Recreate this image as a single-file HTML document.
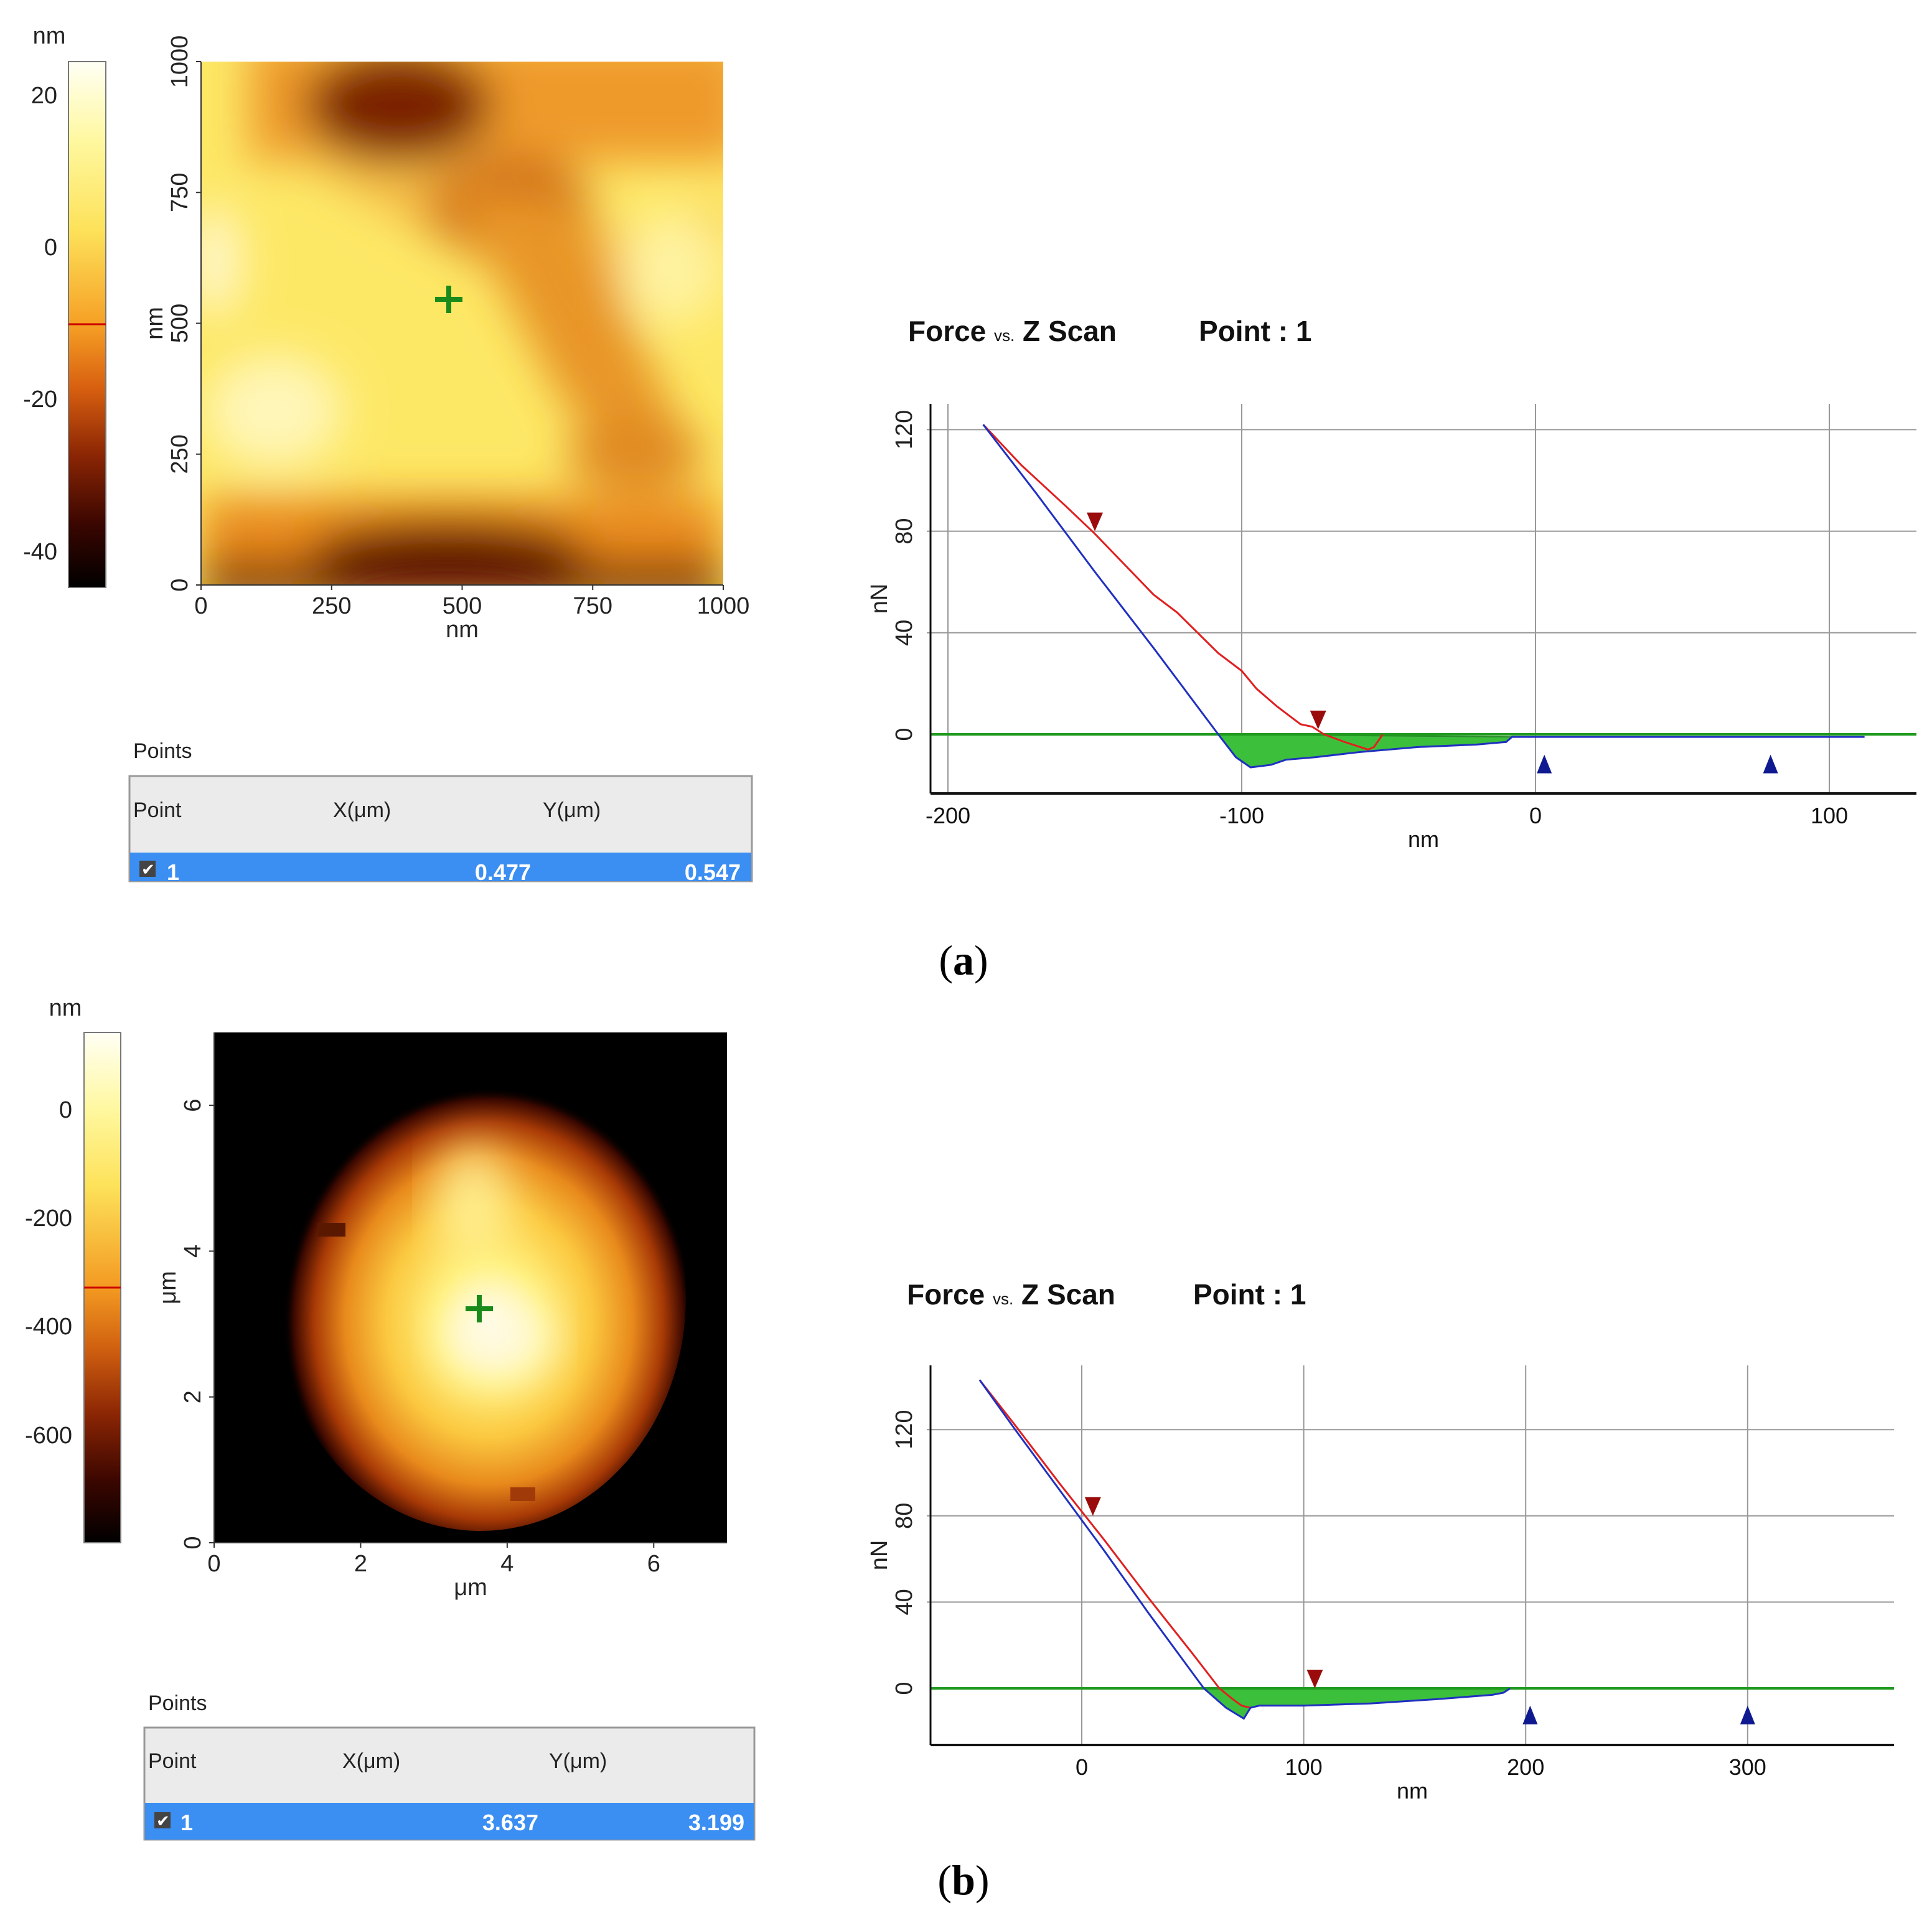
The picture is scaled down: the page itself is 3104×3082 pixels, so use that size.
<!DOCTYPE html>
<html><head><meta charset="utf-8"><style>
html,body{margin:0;padding:0;background:#fff;}
svg{display:block;}
text{font-family:"Liberation Sans",sans-serif;}
.tk{font-size:38px;fill:#222;}
.ft{font-size:36px;fill:#111;font-family:"Liberation Sans Narrow","Liberation Sans",sans-serif;}
.ttl{font-size:46px;font-weight:bold;fill:#111;font-family:"Liberation Sans Narrow","Liberation Sans",sans-serif;}
.tb{font-size:34px;fill:#222;}
.tv{font-size:36px;fill:#fff;font-weight:bold;}
.cap{font-family:"Liberation Serif",serif;font-size:68px;fill:#000;}
</style></head><body>
<svg id="root" width="3104" height="3082" viewBox="0 0 3104 3082" xmlns="http://www.w3.org/2000/svg">
<defs>
<linearGradient id="cbA" x1="0" y1="0" x2="0" y2="1">
<stop offset="0" stop-color="#fffff4"/><stop offset="0.15" stop-color="#fff8a0"/><stop offset="0.32" stop-color="#fde25a"/>
<stop offset="0.5" stop-color="#f6a025"/><stop offset="0.62" stop-color="#d86010"/><stop offset="0.75" stop-color="#8a2504"/>
<stop offset="0.88" stop-color="#3a0600"/><stop offset="1" stop-color="#000"/></linearGradient>
<linearGradient id="cbB" x1="0" y1="0" x2="0" y2="1">
<stop offset="0" stop-color="#fffff4"/><stop offset="0.15" stop-color="#fff8a0"/><stop offset="0.3" stop-color="#fde25a"/>
<stop offset="0.5" stop-color="#f39a22"/><stop offset="0.62" stop-color="#d06010"/><stop offset="0.75" stop-color="#8a2504"/>
<stop offset="0.88" stop-color="#3a0600"/><stop offset="1" stop-color="#000"/></linearGradient>
<radialGradient id="blob" cx="0.52" cy="0.55" r="0.5">
<stop offset="0" stop-color="#fffbe0"/><stop offset="0.25" stop-color="#fff07a"/><stop offset="0.5" stop-color="#fbc840"/>
<stop offset="0.7" stop-color="#e88a1c"/><stop offset="0.85" stop-color="#a83a06"/><stop offset="0.95" stop-color="#3a0800"/><stop offset="1" stop-color="#000" stop-opacity="0"/></radialGradient>
<filter id="blur" x="-20%" y="-20%" width="140%" height="140%"><feGaussianBlur stdDeviation="35"/></filter>
<clipPath id="clipA"><rect x="323" y="99" width="839" height="841"/></clipPath>
<clipPath id="clipB"><rect x="344" y="1659" width="824" height="820"/></clipPath>
</defs>

<!-- Panel a heatmap -->
<g clip-path="url(#clipA)">
<rect x="323" y="99" width="839" height="841" fill="#fde866"/>
<g filter="url(#blur)">
<rect x="400" y="60" width="800" height="200" fill="#ee9a2a"/>
<polygon points="430,230 800,230 1000,380 1160,330 1160,480 900,480 760,420" fill="#f2b040" opacity="0.8"/>
<ellipse cx="640" cy="170" rx="150" ry="90" fill="#7a2404"/>
<ellipse cx="820" cy="330" rx="130" ry="80" fill="#cc6a16"/>
<polygon points="720,300 920,320 1100,700 1060,800 900,640" fill="#e89526"/>
<ellipse cx="1020" cy="730" rx="110" ry="60" fill="#e08a22"/>
<rect x="323" y="800" width="839" height="160" fill="#e98a1e"/>
<rect x="323" y="905" width="839" height="60" fill="#6a1800"/>
<ellipse cx="720" cy="890" rx="220" ry="50" fill="#5a1000"/>
<ellipse cx="440" cy="660" rx="110" ry="90" fill="#fff6b8"/>
<ellipse cx="1080" cy="430" rx="80" ry="90" fill="#fff3a0"/>
<ellipse cx="345" cy="420" rx="40" ry="90" fill="#fff8d0"/>
</g>
</g>
<rect x="110" y="99" width="60" height="845" fill="url(#cbA)" stroke="#777" stroke-width="2"/>
<line x1="110" y1="521" x2="170" y2="521" stroke="#c00" stroke-width="3"/>
<text x="79" y="70" class="tk" text-anchor="middle">nm</text>
<g>
<text x="92" y="166" class="tk" text-anchor="end">20</text>
<text x="92" y="410" class="tk" text-anchor="end">0</text>
<text x="92" y="654" class="tk" text-anchor="end">-20</text>
<text x="92" y="899" class="tk" text-anchor="end">-40</text>
</g>
<g id="axA"></g>
<g stroke="#1a8a1a" stroke-width="8">
<line x1="699" y1="481" x2="743" y2="481"/><line x1="721" y1="459" x2="721" y2="503"/></g>

<text x="214" y="1218" class="tb">Points</text>
<g>
<rect x="208" y="1247" width="1000" height="169" fill="#ebebeb" stroke="#999" stroke-width="3"/>
<rect x="209" y="1370" width="998" height="46" fill="#3b8ef2"/>
<text x="214" y="1313" class="tb">Point</text><text x="535" y="1313" class="tb">X(μm)</text><text x="872" y="1313" class="tb">Y(μm)</text>
<rect x="224" y="1383" width="26" height="26" fill="#444"/>
<text x="227" y="1406" style="font-size:26px;fill:#fff">✔</text>
<text x="268" y="1414" class="tv">1</text>
<text x="853" y="1414" class="tv" text-anchor="end">0.477</text>
<text x="1190" y="1414" class="tv" text-anchor="end">0.547</text>
</g>

<!-- Panel b heatmap -->
<g clip-path="url(#clipB)">
<rect x="344" y="1659" width="824" height="820" fill="#000"/>
<ellipse cx="772" cy="2085" rx="330" ry="375" fill="url(#blob)"/>
<g filter="url(#blur)" opacity="0.8">
<ellipse cx="760" cy="1930" rx="60" ry="90" fill="#fff6a0"/>
<ellipse cx="800" cy="2150" rx="90" ry="70" fill="#fffbe8"/>
</g>
<rect x="510" y="1965" width="45" height="22" fill="#5a1800"/>
<rect x="820" y="2390" width="40" height="22" fill="#a03a08"/>
</g>
<rect x="135" y="1659" width="59" height="820" fill="url(#cbB)" stroke="#777" stroke-width="2"/>
<line x1="135" y1="2069" x2="194" y2="2069" stroke="#c00" stroke-width="3"/>
<text x="105" y="1632" class="tk" text-anchor="middle">nm</text>
<g>
<text x="116" y="1796" class="tk" text-anchor="end">0</text>
<text x="116" y="1970" class="tk" text-anchor="end">-200</text>
<text x="116" y="2144" class="tk" text-anchor="end">-400</text>
<text x="116" y="2319" class="tk" text-anchor="end">-600</text>
</g>
<g id="axB"></g>
<g stroke="#1a8a1a" stroke-width="8">
<line x1="748" y1="2103" x2="792" y2="2103"/><line x1="770" y1="2081" x2="770" y2="2125"/></g>

<text x="238" y="2748" class="tb">Points</text>
<g>
<rect x="232" y="2776" width="980" height="180" fill="#ebebeb" stroke="#999" stroke-width="3"/>
<rect x="233" y="2897" width="978" height="59" fill="#3b8ef2"/>
<text x="238" y="2841" class="tb">Point</text><text x="550" y="2841" class="tb">X(μm)</text><text x="882" y="2841" class="tb">Y(μm)</text>
<rect x="248" y="2912" width="26" height="26" fill="#444"/>
<text x="251" y="2935" style="font-size:26px;fill:#fff">✔</text>
<text x="290" y="2941" class="tv">1</text>
<text x="865" y="2941" class="tv" text-anchor="end">3.637</text>
<text x="1196" y="2941" class="tv" text-anchor="end">3.199</text>
</g>

<g id="forceA"></g>
<g id="forceB"></g>

<text x="1548" y="1566" class="cap" text-anchor="middle">(<tspan font-weight="bold">a</tspan>)</text>
<text x="1548" y="3044" class="cap" text-anchor="middle">(<tspan font-weight="bold">b</tspan>)</text>
</svg>
<script>
// ---- Chart data ----
const mapATicks = [0, 250, 500, 750, 1000];
const mapBTicks = [0, 2, 4, 6];

const forceAXTicks = [-200, -100, 0, 100];
const forceAYTicks = [0, 40, 80, 120];
const forceAApproachX = [-188, -170, -150, -130, -108, -102, -97, -90, -85, -75, -60, -40, -20, -10, -8, 0, 50, 112];
const forceAApproachY = [122, 95, 64, 34, 0, -9, -13, -12, -10, -9, -7, -5, -4, -3, -1, -1, -1, -1];
const forceARetractX = [-188, -175, -160, -150, -140, -130, -122, -115, -108, -100, -95, -88, -80, -76, -72, -65, -57, -55, -52];
const forceARetractY = [122, 106, 90, 79, 67, 55, 48, 40, 32, 25, 18, 11, 4, 3, 0, -3, -6, -5, 0];
const forceADownMarkX = [-150, -74];
const forceADownMarkY = [80, 2];
const forceAUpMarkX = [3, 80];
const forceAUpMarkY = [-8, -8];

const forceBXTicks = [0, 100, 200, 300];
const forceBYTicks = [0, 40, 80, 120];
const forceBApproachX = [-46, -30, -10, 10, 30, 55, 65, 73, 76, 80, 100, 130, 160, 185, 190, 193];
const forceBApproachY = [143, 120, 92, 64, 35, 0, -9, -14, -9, -8, -8, -7, -5, -3, -2, 0];
const forceBRetractX = [-46, -30, -10, 10, 30, 50, 62, 68, 72, 76];
const forceBRetractY = [143, 122, 95, 69, 42, 16, 0, -5, -8, -9];
const forceBDownMarkX = [5, 105];
const forceBDownMarkY = [80, 0];
const forceBUpMarkX = [202, 300];
const forceBUpMarkY = [-8, -8];

const NS = 'http://www.w3.org/2000/svg';
function mk(parent, tag, attrs, txt) {
  const e = document.createElementNS(NS, tag);
  for (const k in attrs) e.setAttribute(k, attrs[k]);
  if (txt !== undefined) e.textContent = txt;
  parent.appendChild(e);
  return e;
}

function mapAxes(g, x0, x1, y0, y1, ticks, vmax, unit) {
  const sx = v => x0 + (v / vmax) * (x1 - x0);
  const sy = v => y1 - (v / vmax) * (y1 - y0);
  const ax = mk(g, 'line', {x1: x0, y1: y1, x2: x1, y2: y1, stroke: '#333', 'stroke-width': 2});
  
  
  const ay = mk(g, 'line', {x1: x0, y1: y0, x2: x0, y2: y1, stroke: '#333', 'stroke-width': 2});
  
  
  ticks.forEach(t => {
    mk(g, 'line', {x1: sx(t), y1: y1, x2: sx(t), y2: y1 + 8, stroke: '#333', 'stroke-width': 2});
    const tl = mk(g, 'text', {x: sx(t), y: y1 + 46, class: 'tk', 'text-anchor': 'middle'}, String(t));
    
    
    mk(g, 'line', {x1: x0 - 8, y1: sy(t), x2: x0, y2: sy(t), stroke: '#333', 'stroke-width': 2});
    const yl = mk(g, 'text', {x: 0, y: 0, class: 'tk', 'text-anchor': 'middle', transform: `translate(${x0 - 22},${sy(t)}) rotate(-90)`}, String(t));
    
    
  });
  const xt = mk(g, 'text', {x: (x0 + x1) / 2, y: y1 + 84, class: 'tk', 'text-anchor': 'middle'}, unit);
  
  
  const yt = mk(g, 'text', {x: 0, y: 0, class: 'tk', 'text-anchor': 'middle', transform: `translate(${x0 - 62},${(y0 + y1) / 2}) rotate(-90)`}, unit);
  
  
}
mapAxes(document.getElementById('axA'), 323, 1162, 99, 940, mapATicks, 1000, 'nm');
mapAxes(document.getElementById('axB'), 344, 1168, 1659, 2479, mapBTicks, 7, 'μm');

function forceChart(g, c) {
  const sx = v => c.px0 + (v - c.v0) * c.kx;
  const sy = v => c.py0 - v * c.ky;
  const t1 = mk(g, 'text', {x: c.tx, y: c.ty, class: 'ttl'});
  
  
  t1.innerHTML = 'Force <tspan style="font-size:26px;font-weight:normal">vs.</tspan> Z Scan';
  const t2 = mk(g, 'text', {x: c.tx2, y: c.ty, class: 'ttl'}, 'Point : 1');
  
  
  c.xt.forEach(t => {
    const gl = mk(g, 'line', {x1: sx(t), y1: c.top, x2: sx(t), y2: c.bot, stroke: '#999', 'stroke-width': 2});
    
    
    const tl = mk(g, 'text', {x: sx(t), y: c.bot + 48, class: 'ft', 'text-anchor': 'middle'}, String(t));
    
    
  });
  c.yt.forEach(t => {
    if (t !== 0) {
      const gl = mk(g, 'line', {x1: c.left - 6, y1: sy(t), x2: c.right, y2: sy(t), stroke: '#999', 'stroke-width': 2});
      
      
    }
    const yl = mk(g, 'text', {x: 0, y: 0, class: 'tk', 'text-anchor': 'middle', transform: `translate(${c.left - 30},${sy(t)}) rotate(-90)`}, String(t));
    
    
  });
  let pts = [];
  c.ax.forEach((x, i) => { if (c.ay[i] <= 0 && x <= c.fillEnd) pts.push(sx(x) + ',' + sy(c.ay[i])); });
  const fill = mk(g, 'polygon', {points: pts.join(' '), fill: '#3cc03c', stroke: '#2a8a2a', 'stroke-width': 2});
  
  
  const zl = mk(g, 'line', {x1: c.left, y1: sy(0), x2: c.right, y2: sy(0), stroke: '#1f9a1f', 'stroke-width': 4});
  
  
  const rp = mk(g, 'polyline', {points: c.rx.map((x, i) => sx(x) + ',' + sy(c.ry[i])).join(' '), fill: 'none', stroke: '#e02020', 'stroke-width': 3});
  
  
  const ap = mk(g, 'polyline', {points: c.ax.map((x, i) => sx(x) + ',' + sy(c.ay[i])).join(' '), fill: 'none', stroke: '#2030c0', 'stroke-width': 3});
  
  
  c.dmx.forEach((x, i) => {
    const X = sx(x), Y = sy(c.dmy[i]);
    const m = mk(g, 'polygon', {points: `${X - 13},${Y - 30} ${X + 13},${Y - 30} ${X},${Y}`, fill: '#9a0c0c'});
    
    
  });
  c.umx.forEach((x, i) => {
    const X = sx(x), Y = sy(c.umy[i]);
    const m = mk(g, 'polygon', {points: `${X - 12},${Y + 30} ${X + 12},${Y + 30} ${X},${Y}`, fill: '#101a90'});
    
    
  });
  const axx = mk(g, 'line', {x1: c.left, y1: c.bot, x2: c.right, y2: c.bot, stroke: '#111', 'stroke-width': 4});
  
  
  const axy = mk(g, 'line', {x1: c.left, y1: c.top, x2: c.left, y2: c.bot, stroke: '#111', 'stroke-width': 3});
  
  
  const xt = mk(g, 'text', {x: c.nmx, y: c.bot + 86, class: 'ft', 'text-anchor': 'middle'}, 'nm');
  
  
  const yt = mk(g, 'text', {x: 0, y: 0, class: 'tk', 'text-anchor': 'middle', transform: `translate(${c.left - 70},${(c.top + c.bot) / 2}) rotate(-90)`}, 'nN');
  
  
}

forceChart(document.getElementById('forceA'), {
  px0: 2467, v0: 0, kx: 4.72, py0: 1180, ky: 4.08,
  left: 1495, right: 3079, top: 649, bot: 1275,
  tx: 1459, tx2: 1926, ty: 548, nmx: 2287,
  xt: forceAXTicks, yt: forceAYTicks, fillEnd: -8,
  ax: forceAApproachX, ay: forceAApproachY, rx: forceARetractX, ry: forceARetractY,
  dmx: forceADownMarkX, dmy: forceADownMarkY, umx: forceAUpMarkX, umy: forceAUpMarkY
});
forceChart(document.getElementById('forceB'), {
  px0: 1738, v0: 0, kx: 3.566, py0: 2713, ky: 3.465,
  left: 1495, right: 3043, top: 2194, bot: 2804,
  tx: 1457, tx2: 1917, ty: 2096, nmx: 2269,
  xt: forceBXTicks, yt: forceBYTicks, fillEnd: 193,
  ax: forceBApproachX, ay: forceBApproachY, rx: forceBRetractX, ry: forceBRetractY,
  dmx: forceBDownMarkX, dmy: forceBDownMarkY, umx: forceBUpMarkX, umy: forceBUpMarkY
});
</script>
</body></html>
